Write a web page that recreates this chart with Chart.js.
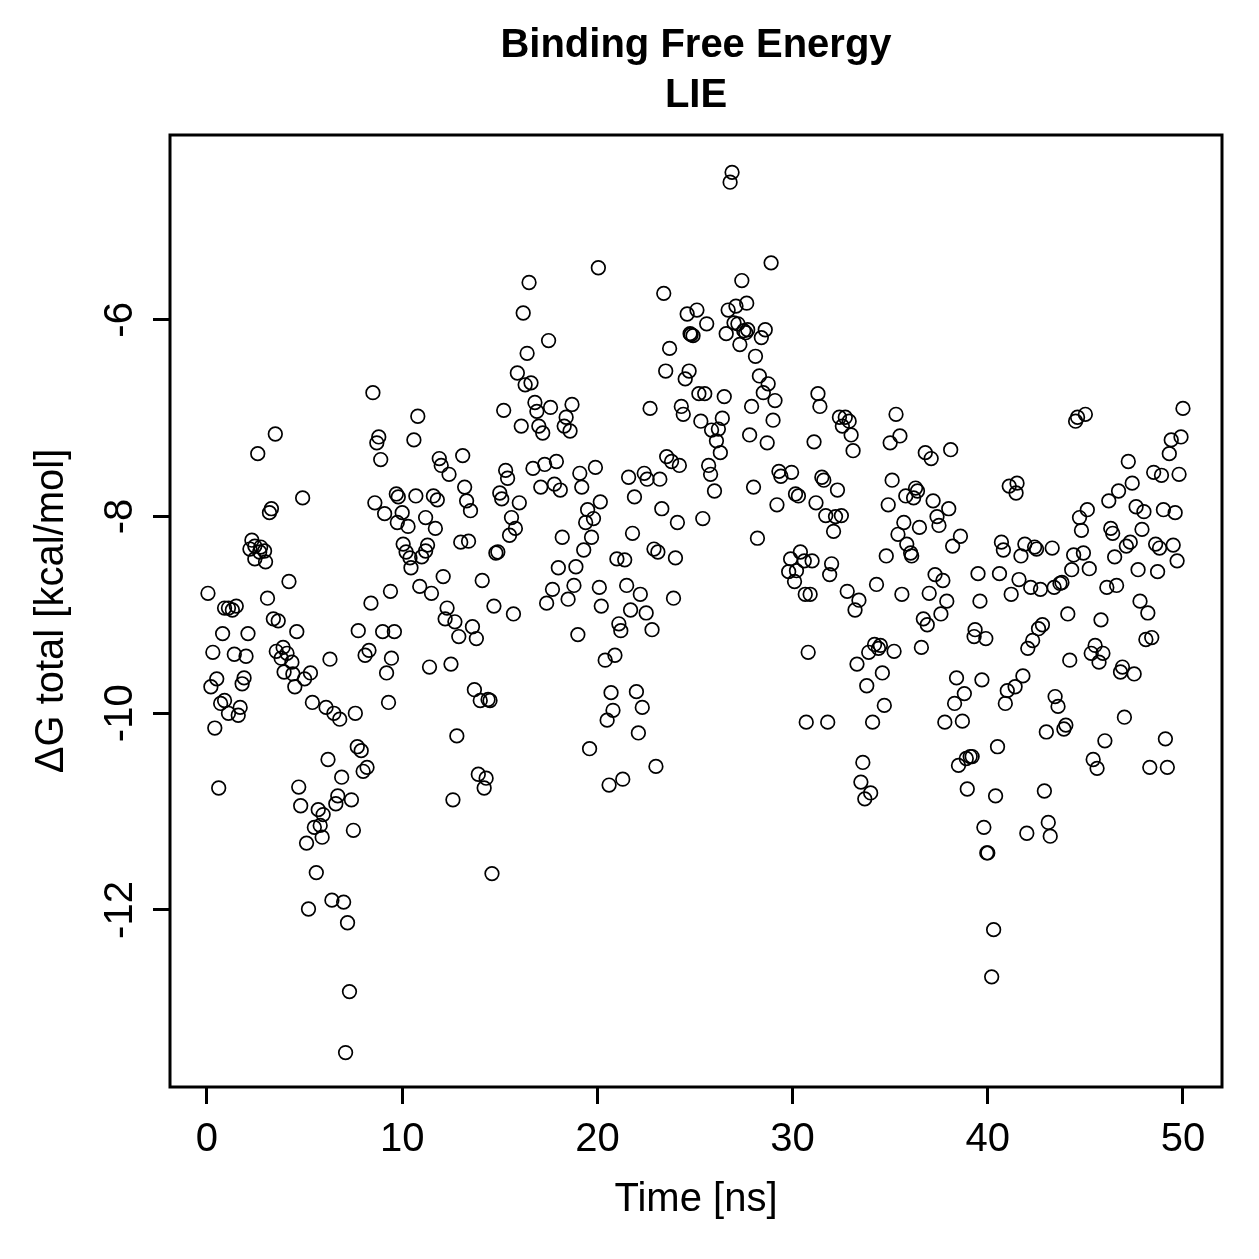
<!DOCTYPE html>
<html>
<head>
<meta charset="utf-8">
<title>Binding Free Energy - LIE</title>
<script src="https://cdn.jsdelivr.net/npm/chart.js@4/dist/chart.umd.min.js"></script>
<style>
  html, body { margin: 0; padding: 0; background: #fff; }
  #wrap { width: 1259px; height: 1259px; }
</style>
</head>
<body>
<div id="wrap"><canvas id="lieChart" width="1259" height="1259"></canvas></div>
<script>
// time [ns] and total binding free energy [kcal/mol]
const time = [
  0.05, 0.2, 0.3, 0.4, 0.5, 0.6, 0.7, 0.8, 0.9, 0.9, 1.1, 1.1, 1.3, 1.4, 1.5, 1.6, 1.7, 1.8, 1.9, 2.0,
  2.1, 2.2, 2.3, 2.45, 2.45, 2.6, 2.7, 2.75, 2.95, 3.0, 3.1, 3.2, 3.3, 3.4, 3.5, 3.55, 3.65, 3.8, 3.9, 3.95,
  4.1, 4.2, 4.35, 4.4, 4.5, 4.6, 4.7, 4.8, 4.9, 5.0, 5.1, 5.2, 5.3, 5.4, 5.5, 5.6, 5.7, 5.8, 5.9, 5.95,
  6.1, 6.2, 6.3, 6.4, 6.5, 6.6, 6.7, 6.8, 6.9, 7.0, 7.1, 7.2, 7.3, 7.4, 7.5, 7.6, 7.7, 7.75, 7.9, 8.0,
  8.1, 8.2, 8.3, 8.4, 8.5, 8.6, 8.7, 8.8, 8.9, 9.0, 9.1, 9.2, 9.3, 9.4, 9.45, 9.6, 9.7, 9.75, 9.8,
  10.0, 10.05, 10.2, 10.3, 10.4, 10.45, 10.6, 10.7, 10.8, 10.9, 11.0, 11.2, 11.2, 11.3, 11.4, 11.5, 11.6, 11.7, 11.8, 11.9,
  12.0, 12.1, 12.2, 12.3, 12.4, 12.5, 12.6, 12.7, 12.8, 12.9, 13.0, 13.1, 13.2, 13.3, 13.4, 13.5, 13.6, 13.7, 13.8, 13.9,
  14.0, 14.1, 14.2, 14.3, 14.4, 14.5, 14.6, 14.7, 14.8, 14.9, 15.0, 15.1, 15.2, 15.3, 15.4, 15.5, 15.6, 15.7, 15.8, 15.9,
  16.0, 16.1, 16.2, 16.3, 16.4, 16.5, 16.6, 16.7, 16.8, 16.9, 17.0, 17.1, 17.2, 17.3, 17.4, 17.5, 17.6, 17.7, 17.8, 17.9,
  18.0, 18.1, 18.2, 18.3, 18.4, 18.5, 18.6, 18.7, 18.8, 18.9, 19.0, 19.1, 19.2, 19.3, 19.4, 19.5, 19.6, 19.7, 19.8, 19.9,
  20.05, 20.1, 20.15, 20.2, 20.4, 20.5, 20.6, 20.7, 20.8, 20.9, 21.0, 21.1, 21.2, 21.3, 21.4, 21.5, 21.6, 21.7, 21.8, 21.9,
  22.0, 22.1, 22.2, 22.3, 22.4, 22.5, 22.55, 22.7, 22.8, 22.9, 23.0, 23.1, 23.2, 23.3, 23.4, 23.5, 23.55, 23.7, 23.8, 23.9,
  24.0, 24.1, 24.2, 24.3, 24.4, 24.5, 24.6, 24.7, 24.75, 24.8, 24.9, 25.1, 25.2, 25.3, 25.4, 25.5, 25.6, 25.7, 25.8, 25.85,
  26.0, 26.1, 26.2, 26.3, 26.4, 26.5, 26.6, 26.7, 26.8, 26.9, 27.0, 27.1, 27.2, 27.3, 27.4, 27.5, 27.6, 27.65, 27.7, 27.8,
  27.9, 28.0, 28.1, 28.2, 28.3, 28.4, 28.5, 28.6, 28.7, 28.75, 28.9, 29.0, 29.1, 29.2, 29.3, 29.4,
  29.8, 29.9, 29.95, 30.1, 30.15, 30.2, 30.3, 30.4, 30.6, 30.65, 30.7, 30.8, 30.9, 31.0, 31.1, 31.2, 31.3, 31.4, 31.5, 31.6,
  31.7, 31.8, 31.9, 32.0, 32.1, 32.2, 32.3, 32.4, 32.5, 32.55, 32.7, 32.8, 32.9, 33.0, 33.1, 33.2, 33.3, 33.4, 33.5, 33.6,
  33.7, 33.8, 33.9, 34.0, 34.1, 34.2, 34.3, 34.4, 34.5, 34.6, 34.7, 34.8, 34.9, 35.0, 35.1, 35.2, 35.3, 35.4, 35.5, 35.6,
  35.7, 35.8, 35.85, 36.05, 36.1, 36.2, 36.3, 36.4, 36.5, 36.6, 36.7, 36.8, 36.9, 37.0, 37.1, 37.2, 37.3, 37.4, 37.5, 37.6,
  37.7, 37.8, 37.9, 38.0, 38.1, 38.2, 38.3, 38.4, 38.5, 38.6, 38.7, 38.8, 38.9, 38.95, 39.1, 39.2, 39.3, 39.35, 39.5, 39.6,
  39.7, 39.8, 39.9, 39.95, 40.0,
  40.2, 40.3, 40.4, 40.5, 40.6, 40.7, 40.8, 40.9, 41.0, 41.1, 41.2, 41.4, 41.45, 41.5, 41.6, 41.7, 41.8, 41.9, 42.0, 42.05,
  42.2, 42.3, 42.4, 42.5, 42.6, 42.7, 42.8, 42.9, 43.0, 43.1, 43.2, 43.3, 43.4, 43.45, 43.6, 43.7, 43.8, 43.9, 44.0, 44.1,
  44.2, 44.3, 44.4, 44.5, 44.6, 44.7, 44.8, 44.9, 45.0, 45.1, 45.2, 45.3, 45.4, 45.5, 45.6, 45.7, 45.8, 45.9, 46.0, 46.1,
  46.2, 46.3, 46.4, 46.5, 46.6, 46.7, 46.8, 46.9, 47.0, 47.1, 47.2, 47.3, 47.4, 47.5, 47.6, 47.7, 47.8, 47.9, 48.0, 48.1,
  48.2, 48.3, 48.4, 48.5, 48.6, 48.7, 48.8, 48.9, 49.0, 49.1, 49.2, 49.3, 49.4, 49.5, 49.6, 49.7, 49.8, 49.9, 50.0
];

const dG = [
  -8.78, -9.73, -9.38, -10.15, -9.65, -10.76, -9.90, -9.19, -9.87, -8.93, -10.00, -8.93, -8.95, -9.40, -8.91, -10.02, -9.94, -9.70, -9.64, -9.42,
  -9.19, -8.33, -8.24, -8.30, -8.43, -7.36, -8.36, -8.31, -8.35, -8.46, -8.83, -7.96, -7.92, -9.04, -7.16, -9.37, -9.06, -9.44, -9.33, -9.58,
  -9.39, -8.66, -9.48, -9.60, -9.73, -9.17, -10.75, -10.94, -7.81, -9.65, -11.32, -11.99, -9.59, -9.89, -11.16, -11.62, -10.98, -11.14, -11.26, -11.03,
  -9.94, -10.47, -9.45, -11.90, -10.00, -10.92, -10.84, -10.06, -10.65, -11.92, -13.45, -12.13, -12.83, -10.88, -11.19, -10.00, -10.34, -9.16, -10.38, -10.59,
  -9.41, -10.55, -9.36, -8.88, -6.74, -7.86, -7.25, -7.19, -7.42, -9.17, -7.97, -9.59, -9.89, -8.76, -9.44, -9.17, -7.77, -8.06, -7.80,
  -7.96, -8.28, -8.36, -8.10, -8.42, -8.52, -7.22, -7.79, -6.98, -8.71, -8.41, -8.35, -8.01, -8.29, -9.53, -8.78, -7.79, -8.12, -7.83, -7.41,
  -7.48, -8.61, -9.04, -8.93, -7.57, -9.50, -10.88, -9.07, -10.23, -9.22, -8.26, -7.38, -7.70, -7.84, -8.25, -7.94, -9.12, -9.76, -9.24, -10.62,
  -9.87, -8.65, -10.76, -10.66, -9.86, -9.87, -11.63, -8.91, -8.37, -8.36, -7.76, -7.82, -6.92, -7.53, -7.61, -8.19, -8.01, -8.99, -8.12, -6.54,
  -7.86, -7.08, -5.93, -6.66, -6.34, -5.62, -6.64, -7.51, -6.84, -6.93, -7.08, -7.70, -7.15, -7.47, -8.88, -6.21, -6.89, -8.74, -7.67, -7.44,
  -8.52, -7.73, -8.21, -7.08, -6.99, -8.84, -7.13, -6.86, -8.70, -8.51, -9.20, -7.56, -7.70, -8.34, -8.06, -7.93, -10.36, -8.21, -8.02, -7.50,
  -5.47, -8.72, -7.85, -8.91, -9.46, -10.07, -10.73, -9.79, -9.97, -9.41, -8.43, -9.09, -9.16, -10.67, -8.44, -8.70, -7.60, -8.95, -8.17, -7.80,
  -9.78, -10.20, -8.79, -9.94, -7.56, -8.98, -7.62, -6.90, -9.15, -8.33, -10.54, -8.36, -7.62, -7.92, -5.73, -6.52, -7.39, -6.29, -7.44, -8.83,
  -8.42, -8.06, -7.48, -6.88, -6.96, -6.60, -5.94, -6.52, -6.14, -6.15, -6.16, -5.90, -6.75, -7.03, -8.02, -6.75, -6.04, -7.48, -7.57, -7.12,
  -7.74, -7.23, -7.11, -7.35, -7.00, -6.78, -6.14, -5.90, -4.60, -4.50, -6.03, -5.86, -6.04, -6.25, -5.60, -6.11, -6.13, -5.83, -6.10, -7.17,
  -6.88, -7.70, -6.37, -8.22, -6.57, -6.18, -6.74, -6.10, -7.25, -6.65, -5.42, -7.02, -6.82, -7.88, -7.54, -7.59,
  -8.56, -8.43, -7.55, -8.66, -7.77, -8.55, -7.79, -8.36, -8.45, -8.79, -10.09, -9.38, -8.79, -8.45, -7.24, -7.86, -6.75, -6.88, -7.60, -7.63,
  -7.99, -10.09, -8.59, -8.48, -8.15, -8.00, -7.73, -6.99, -7.99, -7.08, -6.99, -8.76, -7.03, -7.17, -7.33, -8.95, -9.50, -8.85, -10.70, -10.50,
  -10.87, -9.72, -9.38, -10.81, -10.09, -9.30, -8.69, -9.34, -9.31, -9.59, -9.92, -8.40, -7.88, -7.25, -7.63, -9.37, -6.96, -8.18, -7.18, -8.79,
  -8.06, -7.79, -8.28, -8.37, -8.40, -7.81, -7.71, -7.74, -8.11, -9.33, -9.04, -7.35, -9.10, -8.78, -7.41, -7.84, -8.59, -8.00, -8.09, -8.99,
  -8.65, -10.09, -8.86, -7.92, -7.32, -8.30, -9.90, -9.64, -10.53, -8.20, -10.08, -9.80, -10.46, -10.77, -10.44, -10.44, -9.22, -9.15, -8.58, -8.86,
  -9.66, -11.16, -9.24, -11.42, -11.42,
  -12.68, -12.20, -10.84, -10.34, -8.58, -8.26, -8.34, -9.90, -9.77, -7.69, -8.79, -9.73, -7.76, -7.66, -8.64, -8.40, -9.62, -8.28, -11.22, -9.34,
  -8.72, -9.26, -8.31, -8.33, -9.14, -8.74, -9.10, -10.79, -10.19, -11.11, -11.25, -8.32, -8.72, -9.83, -9.93, -8.68, -8.67, -10.16, -10.12, -8.99,
  -9.46, -8.54, -8.39, -7.03, -6.99, -8.01, -8.14, -8.37, -6.96, -7.93, -8.53, -9.39, -10.47, -9.31, -10.56, -9.48, -9.05, -9.39, -10.28, -8.72,
  -7.84, -8.12, -8.17, -8.41, -8.70, -7.74, -9.58, -9.53, -10.04, -8.30, -7.44, -8.26, -7.66, -9.60, -7.90, -8.54, -8.86, -8.13, -7.95, -9.25,
  -8.98, -10.55, -9.23, -7.55, -8.28, -8.56, -8.32, -7.58, -7.93, -10.26, -10.55, -7.36, -7.22, -8.29, -7.96, -8.45, -7.57, -7.19, -6.90
];

const xTicks = [0, 10, 20, 30, 40, 50];
const yTicks = [-12, -10, -8, -6];

const FONT = "'Liberation Sans', Arial, Helvetica, sans-serif";

// closed box round the plot region, like R's box()
const boxPlugin = {
    id: 'plotBox',
    afterDatasetsDraw(chart) {
        const {ctx, chartArea} = chart;
        ctx.save();
        ctx.strokeStyle = '#000';
        ctx.lineWidth = 3;
        ctx.strokeRect(chartArea.left, chartArea.top,
            chartArea.right - chartArea.left, chartArea.bottom - chartArea.top);
        ctx.restore();
    }
};

const points = time.map((t, i) => ({x: t, y: dG[i]}));

const config = {
    type: 'scatter',
    data: {
        datasets: [
            {
                label: 'dG total',
                data: points,
                pointStyle: 'circle',
                pointRadius: 6.8,
                pointBorderWidth: 1.7,
                pointBorderColor: '#000',
                pointBackgroundColor: 'rgba(0,0,0,0)',
                showLine: false
            }
        ]
    },
    options: {
        responsive: false,
        animation: false,
        events: [],
        layout: {
            padding: {left: 0, right: 37, top: 0, bottom: 0}
        },
        plugins: {
            legend: {display: false},
            tooltip: {enabled: false},
            title: {
                display: true,
                fullSize: false,
                text: ['Binding Free Energy', 'LIE'],
                color: '#000',
                font: {family: FONT, size: 40, weight: 'bold', lineHeight: 1.25},
                padding: {top: 21, bottom: 14}
            }
        },
        scales: {
            x: {
                type: 'linear',
                min: -1.895,
                max: 52.0,
                afterFit(scale) { scale.height = 172; },
                afterBuildTicks(scale) { scale.ticks = xTicks.map(v => ({value: v})); },
                ticks: {
                    color: '#000',
                    font: {family: FONT, size: 40},
                    padding: 12,
                    maxRotation: 0,
                    includeBounds: false
                },
                grid: {
                    drawOnChartArea: false,
                    drawTicks: true,
                    tickLength: 17,
                    tickWidth: 3,
                    tickColor: '#000'
                },
                border: {display: false},
                title: {
                    display: true,
                    text: 'Time [ns]',
                    color: '#000',
                    font: {family: FONT, size: 40},
                    padding: {top: 0, bottom: 35}
                }
            },
            y: {
                type: 'linear',
                min: -13.80,
                max: -4.12,
                afterFit(scale) { scale.width = 170; },
                afterBuildTicks(scale) { scale.ticks = yTicks.map(v => ({value: v})); },
                ticks: {
                    color: '#000',
                    font: {family: FONT, size: 40},
                    minRotation: 90,
                    maxRotation: 90,
                    crossAlign: 'center',
                    padding: 3,
                    includeBounds: false
                },
                grid: {
                    drawOnChartArea: false,
                    drawTicks: true,
                    tickLength: 17,
                    tickWidth: 3,
                    tickColor: '#000'
                },
                border: {display: false},
                title: {
                    display: true,
                    text: 'ΔG total [kcal/mol]',
                    color: '#000',
                    font: {family: FONT, size: 40},
                    padding: {top: 28, bottom: 0}
                }
            }
        }
    },
    plugins: [boxPlugin]
};

new Chart(
    document.getElementById('lieChart'),
    config
);
</script>
</body>
</html>
